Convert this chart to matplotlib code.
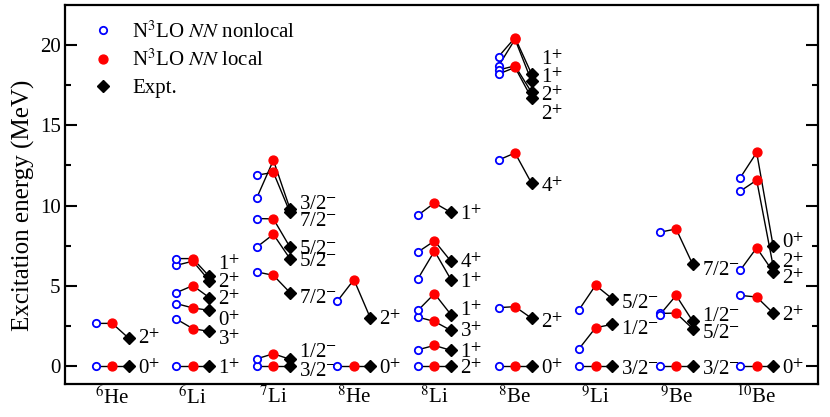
import matplotlib
matplotlib.use("Agg")
import matplotlib.pyplot as plt
from matplotlib.lines import Line2D
from matplotlib.ticker import MultipleLocator

plt.rcParams["font.family"] = ["Liberation Serif", "DejaVu Serif"]
plt.rcParams["mathtext.fontset"] = "stix"

nuclei = ["$^{6}$He", "$^{6}$Li", "$^{7}$Li", "$^{8}$He", "$^{8}$Li",
          "$^{8}$Be", "$^{9}$Li", "$^{9}$Be", "$^{10}$Be"]

# excitation energies (MeV), one list per nucleus, one entry per state
nonlocal_e = [
    [0, 2.68],
    [0, 2.95, 3.91, 4.59, 6.29, 6.71],
    [0, 0.48, 5.88, 7.43, 9.2, 11.9, 10.5],
    [0, 4.07],
    [0, 1.04, 3.07, 3.49, 5.46, 7.12, 9.41],
    [0, 3.66, 12.84, 19.27, 18.69, 18.44, 18.19],
    [0, 1.1, 3.53],
    [0, 3.3, 3.2, 8.35],
    [0, 4.42, 5.98, 10.9, 11.73],
]
local_e = [
    [0, 2.68],
    [0, 2.35, 3.64, 5.03, 6.55, 6.71],
    [0, 0.79, 5.67, 8.22, 9.18, 12.07, 12.83],
    [0, 5.4],
    [0, 1.31, 2.8, 4.53, 7.18, 7.81, 10.17],
    [0, 3.72, 13.28, 20.45, 20.35, 18.7, 18.6],
    [0, 2.41, 5.05],
    [0, 3.32, 4.42, 8.55],
    [0, 4.32, 7.38, 11.59, 13.31],
]
expt_e = [
    [0, 1.75],
    [0, 2.18, 3.49, 4.28, 5.33, 5.6],
    [0, 0.45, 4.6, 6.71, 7.43, 9.6, 9.82],
    [0, 3.0],
    [0, 1.0, 2.24, 3.22, 5.4, 6.54, 9.58],
    [0, 3.0, 11.4, 18.2, 17.75, 17.05, 16.7],
    [0, 2.62, 4.22],
    [0, 2.35, 2.82, 6.36],
    [0, 3.32, 5.88, 6.23, 7.48],
]
spins = [
    ["0+", "2+"],
    ["1+", "3+", "0+", "2+", "2+", "1+"],
    ["3/2-", "1/2-", "7/2-", "5/2-", "5/2-", "7/2-", "3/2-"],
    ["0+", "2+"],
    ["2+", "1+", "3+", "1+", "1+", "4+", "1+"],
    ["0+", "2+", "4+", "1+", "1+", "2+", "2+"],
    ["3/2-", "1/2-", "5/2-"],
    ["3/2-", "5/2-", "1/2-", "7/2-"],
    ["0+", "2+", "2+", "2+", "0+"],
]
# where the spin labels sit (MeV)
label_e = [
    [0, 1.9],
    [0, 1.8, 3.0, 4.3, 5.35, 6.5],
    [-0.1, 1.04, 4.42, 6.71, 7.48, 9.2, 10.24],
    [0, 3.05],
    [0, 1.04, 2.35, 3.6, 5.4, 6.6, 9.61],
    [0, 2.87, 11.35, 19.27, 18.13, 16.99, 15.84],
    [0, 2.5, 4.1],
    [0, 2.25, 3.3, 6.17],
    [0, 3.32, 5.6, 6.6, 7.87],
]

dx = 0.205

fig = plt.figure(figsize=(8.3, 4.17), dpi=100)
ax = fig.add_axes([0.0789, 0.0803, 0.907, 0.908])

for i in range(len(nuclei)):
    xc = i + 1
    for a, b, c in zip(nonlocal_e[i], local_e[i], expt_e[i]):
        ax.plot([xc - dx, xc, xc + dx], [a, b, c], color="black", lw=1.0, zorder=1)
    n = len(nonlocal_e[i])
    ax.plot([xc - dx] * n, nonlocal_e[i], "o", ms=5.3, mfc="white", mec="blue",
            mew=1.3, zorder=3)
    ax.plot([xc] * n, local_e[i], "o", ms=6.4, color="red", zorder=3)
    ax.plot([xc + dx] * n, expt_e[i], "D", ms=5.8, color="black", zorder=3)
    for s, ly in zip(spins[i], label_e[i]):
        txt = s[:-1] + "$^{" + s[-1] + "}$"
        ax.annotate(txt, (xc + dx, ly), xytext=(6.5, -2.2), textcoords="offset points",
                    va="center", ha="left", fontsize=15)

ax.set_xlim(0.419, 9.765)
ax.set_ylim(-1.06, 22.49)
ax.set_xticks(range(1, len(nuclei) + 1))
ax.set_xticklabels(nuclei, fontsize=15)
ax.set_yticks([0, 5, 10, 15, 20])
ax.yaxis.set_minor_locator(MultipleLocator(2.5))
ax.tick_params(axis="y", which="both", direction="in", right=True, width=1.5,
               labelsize=15)
ax.tick_params(axis="y", which="major", length=8.5)
ax.tick_params(axis="y", which="minor", length=4.5)
ax.tick_params(axis="x", length=0, pad=2)
for sp in ax.spines.values():
    sp.set_linewidth(1.6)

ax.set_ylabel("Excitation energy (MeV)", fontsize=18)
ax.yaxis.set_label_coords(-0.041, 0.47)

handles = [
    Line2D([], [], ls="none", marker="o", ms=5.3, mfc="white", mec="blue", mew=1.3),
    Line2D([], [], ls="none", marker="o", ms=6.4, color="red"),
    Line2D([], [], ls="none", marker="D", ms=5.8, color="black"),
]
ax.legend(handles, ["N$^3$LO $NN$ nonlocal", "N$^3$LO $NN$ local", "Expt."],
          loc="upper left", bbox_to_anchor=(0.036, 0.957), borderaxespad=0,
          borderpad=0, frameon=False, fontsize=15, handlelength=1.0,
          handletextpad=0.9, labelspacing=0.35)

fig.savefig("out.png", dpi=100)
